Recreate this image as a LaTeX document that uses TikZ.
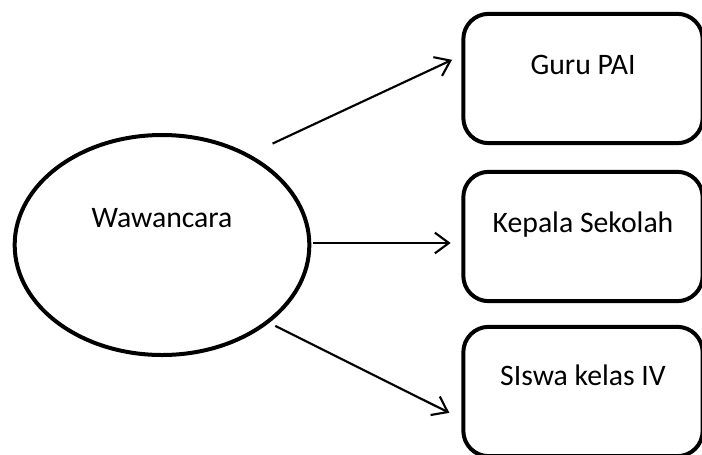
\documentclass[tikz,border=0pt]{standalone}
\usepackage{fontspec}
\setmainfont{Carlito}
\usepackage{tikz}
\usetikzlibrary{shapes.geometric,arrows.meta}

\begin{document}
\begin{tikzpicture}[x=0.75pt, y=-0.75pt, font=\fontsize{22.3}{26}\selectfont,
		every node/.style={line width=3pt},
		lingkaran/.style={draw, ellipse, minimum width=221pt, minimum height=165pt},
		kotak/.style={draw, rounded corners=19pt, minimum width=179.5pt, minimum height=97pt},
		teks/.style={draw=none},
		panah/.style={line width=1.6pt, -{Straight Barb[length=10.5pt,width=15.5pt,line width=1.6pt]}},
	]
	\useasboundingbox (0,0) rectangle (702,454);

	\node [lingkaran, label={[teks, yshift=20pt]center:Wawancara}] (wc) at (162,245) {};

	\node [kotak, label={[teks, yshift=10pt]center:Guru PAI}] (guru) at (583,78.5) {};
	\node [kotak, label={[teks, yshift=9pt]center:Kepala Sekolah}] (kepsek) at (583,236.5) {};
	\node [kotak, label={[teks, yshift=12pt]center:SIswa kelas IV}] (siswa) at (583,391.5) {};

	% panah dari wawancara
	\draw [panah, shorten <=19pt] (wc.46) -- ([xshift=-7pt,yshift=14pt]guru.west);
	\draw [panah, shorten <=1pt, shorten >=8pt] ([yshift=1.5pt]wc.east) -- ([yshift=1.5pt]wc.east -| kepsek.west);
	\draw [panah, shorten <=5pt] (wc.-36) -- ([xshift=-9pt,yshift=-16pt]siswa.west);
\end{tikzpicture}
\end{document}
